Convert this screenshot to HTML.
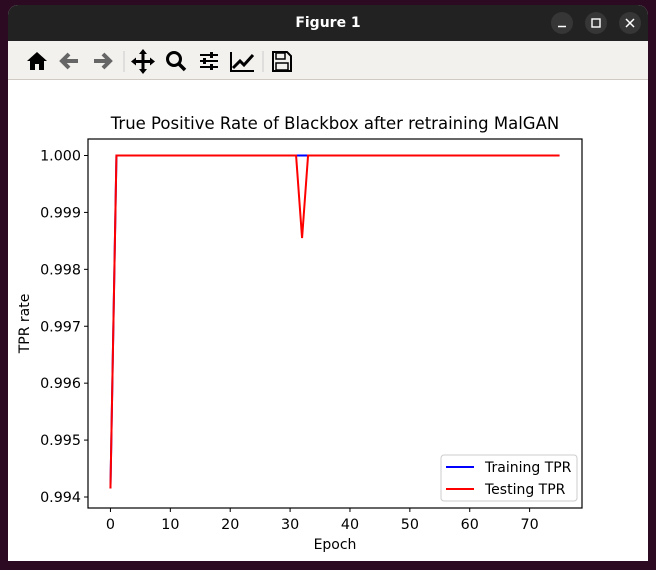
<!DOCTYPE html>
<html><head><meta charset="utf-8"><style>
body{margin:0;width:656px;height:570px;background:#2c0b22;overflow:hidden;font-family:"DejaVu Sans","Liberation Sans",sans-serif;position:relative}
#win{position:absolute;left:8px;top:5px;width:640px;height:556px;background:#fff;border-radius:10px 10px 0 0;overflow:hidden}
#title{position:absolute;left:0;top:0;width:640px;height:36px;background:#222;color:#fff;font-weight:bold;font-size:14px;text-align:center;line-height:36px}
.wb{position:absolute;top:7px;width:22px;height:22px;border-radius:11px;background:#363636}
#tool{position:absolute;left:0;top:36px;width:640px;height:38px;background:#f3f1ee;border-bottom:1px solid #cfcac4}
#plot{position:absolute;left:0;top:0}
</style></head><body>
<div id="win">
<div id="title">Figure 1</div>
<div class="wb" style="left:543px"><svg width="22" height="22"><line x1="7" y1="14.5" x2="15" y2="14.5" stroke="#fff" stroke-width="1.5"/></svg></div>
<div class="wb" style="left:577px"><svg width="22" height="22"><rect x="7" y="7" width="8" height="8" fill="none" stroke="#fff" stroke-width="1.4"/></svg></div>
<div class="wb" style="left:611px"><svg width="22" height="22"><path d="M7 7L15 15M15 7L7 15" stroke="#fff" stroke-width="1.5"/></svg></div>
<div id="tool">
<svg width="300" height="38" style="position:absolute;left:0;top:0">
<g><path d="M19 20L29 11L39 20H36V29H31V23H27V29H22V20Z" fill="#000"/></g>
<g><path d="M70 20H54M61 13L54 20L61 27" stroke="#666" stroke-width="4" fill="none"/></g>
<g><path d="M86 20H102M95 13L102 20L95 27" stroke="#666" stroke-width="4" fill="none"/></g>
<line x1="116" y1="10" x2="116" y2="31" stroke="#ccc"/>
<g><path d="M135 10V31M125 20.5H145" stroke="#000" stroke-width="3"/><path d="M131 13L135 8L139 13ZM131 28L135 33L139 28ZM128 16.5L123 20.5L128 24.5ZM142 16.5L147 20.5L142 24.5Z" fill="#000"/></g>
<g><circle cx="166" cy="18" r="6.5" fill="none" stroke="#000" stroke-width="3"/><line x1="171" y1="23" x2="177" y2="29" stroke="#000" stroke-width="3.5"/></g>
<g><path d="M192 14H210M192 20H210M192 26H210" stroke="#000" stroke-width="2"/><rect x="202" y="11" width="3" height="6" fill="#000"/><rect x="195" y="17" width="3" height="6" fill="#000"/><rect x="202" y="23" width="3" height="6" fill="#000"/></g>
<g><path d="M223 11V30H246" stroke="#000" stroke-width="2" fill="none"/><path d="M225 27L232 20L236 24L245 14" stroke="#000" stroke-width="3" fill="none"/></g>
<line x1="255" y1="10" x2="255" y2="31" stroke="#ccc"/>
<g><path d="M265 11H279L283 15V30H265Z" fill="none" stroke="#000" stroke-width="2"/><rect x="268" y="12" width="9" height="6" fill="none" stroke="#000" stroke-width="1.5"/><rect x="268" y="22" width="12" height="7" fill="none" stroke="#000" stroke-width="1.5"/></g>
</svg>
</div>
</div>
<svg id="plot" width="656" height="570" font-family="DejaVu Sans, Liberation Sans, sans-serif"></svg>
<script>
const epochs=[];for(let i=0;i<=75;i++)epochs.push(i);
const training=[0.99415].concat(new Array(75).fill(1.0));
const testing=training.slice(); testing[32]=0.99855;
const xTicks=[0,10,20,30,40,50,60,70];
const yTicks=[0.994,0.995,0.996,0.997,0.998,0.999,1.000];
const yTickLabels=["0.994","0.995","0.996","0.997","0.998","0.999","1.000"];
const L=88,R=582,T=139,B=508;
const xmin=-3.75,xmax=78.75;
const X=v=>L+(v-xmin)/(xmax-xmin)*(R-L);
const Y=v=>497-(v-0.994)/0.006*(497-155.5);
const svg=document.getElementById('plot');const NS='http://www.w3.org/2000/svg';
function mk(t,a,p){const e=document.createElementNS(NS,t);for(const k in a)e.setAttribute(k,a[k]);(p||svg).appendChild(e);return e;}
let e;
e=mk('text',{x:(L+R)/2,y:129,'text-anchor':'middle','font-size':16.5,fill:'#000'});e.textContent='True Positive Rate of Blackbox after retraining MalGAN';


xTicks.forEach(t=>{const g=mk('g',{});


mk('line',{x1:X(t),x2:X(t),y1:B,y2:B+4,stroke:'#000'},g);
const tx=mk('text',{x:X(t),y:B+21,'text-anchor':'middle','font-size':14.3},g);tx.textContent=t;});
yTicks.forEach((t,i)=>{const g=mk('g',{});


mk('line',{x1:L-4,x2:L,y1:Y(t),y2:Y(t),stroke:'#000'},g);
const tx=mk('text',{x:L-7,y:Y(t)+5,'text-anchor':'end','font-size':14.3},g);tx.textContent=yTickLabels[i];});
e=mk('text',{x:(L+R)/2,y:549,'text-anchor':'middle','font-size':14});e.textContent='Epoch';


e=mk('text',{x:29,y:(T+B)/2,'text-anchor':'middle','font-size':14,transform:'rotate(-90 29 '+(T+B)/2+')'});e.textContent='TPR rate';


function line(d,c,n){const p=mk('polyline',{points:d.map((v,i)=>X(epochs[i])+','+Y(v)).join(' '),fill:'none',stroke:c,'stroke-width':2});

}
line(training,'#0000ff','training-tpr-line');
line(testing,'#ff0000','testing-tpr-line');
e=mk('rect',{x:L,y:T,width:R-L,height:B-T,fill:'none',stroke:'#000','stroke-width':1.2});


const lg=mk('g',{});


mk('rect',{x:441,y:455,width:136,height:46,rx:3,fill:'#fff',stroke:'#ccc'},lg);
mk('line',{x1:446,x2:474,y1:467,y2:467,stroke:'#0000ff','stroke-width':2},lg);
e=mk('text',{x:485,y:472,'font-size':14},lg);e.textContent='Training TPR';
mk('line',{x1:446,x2:474,y1:489,y2:489,stroke:'#ff0000','stroke-width':2},lg);
e=mk('text',{x:485,y:494,'font-size':14},lg);e.textContent='Testing TPR';
</script>
</body></html>
